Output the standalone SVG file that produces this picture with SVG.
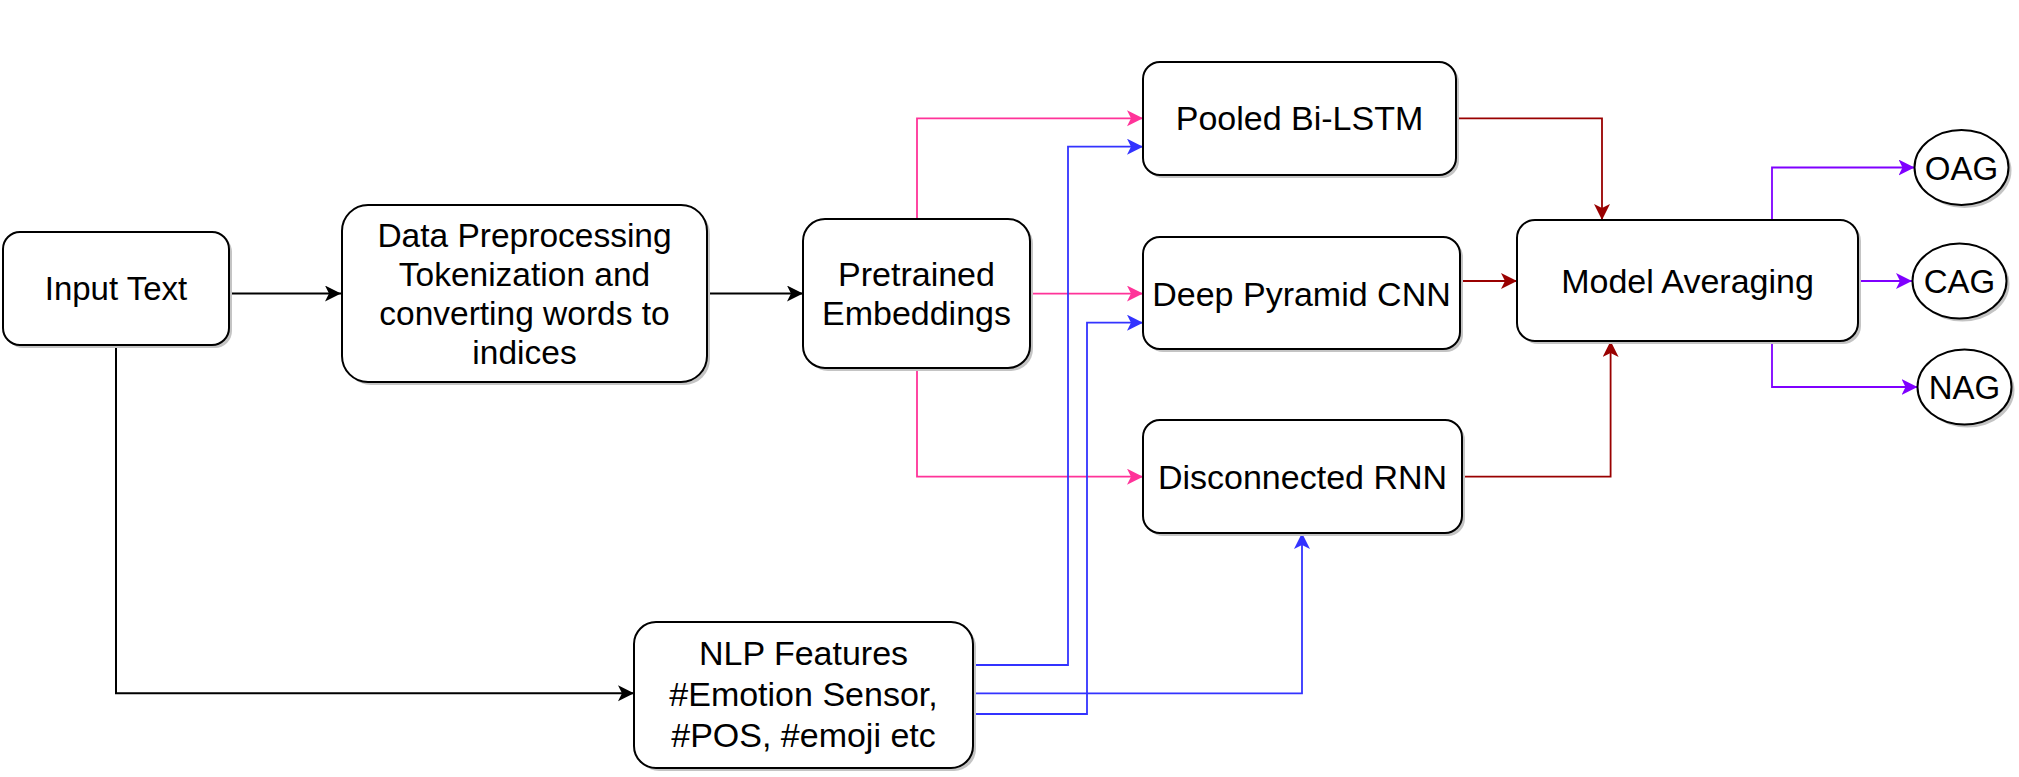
<svg xmlns="http://www.w3.org/2000/svg" width="2019" height="777" viewBox="0 0 2019 777">
<style>
.box{fill:#fff;stroke:#000;stroke-width:2}
.sh{fill:#c4c4c4;stroke:none}
text{font-family:"Liberation Sans",Arial,Helvetica,sans-serif;font-size:34px;fill:#000;text-anchor:middle}
.c{fill:none;stroke-width:1.8}
.k{stroke:#000;stroke-width:2}
.p{stroke:#FF3399}
.b{stroke:#3333FF}
.r{stroke:#990000}
.v{stroke:#7F00FF}
</style>
<defs>
<marker id="ak" markerUnits="userSpaceOnUse" markerWidth="17" markerHeight="17" refX="16" refY="8" orient="auto"><path d="M0,0 L16,8 L0,16 L4,8 Z" fill="#000"/></marker>
<marker id="ap" markerUnits="userSpaceOnUse" markerWidth="17" markerHeight="17" refX="16" refY="8" orient="auto"><path d="M0,0 L16,8 L0,16 L4,8 Z" fill="#FF3399"/></marker>
<marker id="ab" markerUnits="userSpaceOnUse" markerWidth="17" markerHeight="17" refX="16" refY="8" orient="auto"><path d="M0,0 L16,8 L0,16 L4,8 Z" fill="#3333FF"/></marker>
<marker id="ar" markerUnits="userSpaceOnUse" markerWidth="17" markerHeight="17" refX="16" refY="8" orient="auto"><path d="M0,0 L16,8 L0,16 L4,8 Z" fill="#990000"/></marker>
<marker id="av" markerUnits="userSpaceOnUse" markerWidth="17" markerHeight="17" refX="16" refY="8" orient="auto"><path d="M0,0 L16,8 L0,16 L4,8 Z" fill="#7F00FF"/></marker>
</defs>
<rect width="2019" height="777" fill="#fff"/>

<g id="connectors">
<path class="c k" d="M229,293.5 H341" marker-end="url(#ak)"/>
<path class="c k" d="M707,293.5 H803" marker-end="url(#ak)"/>
<path class="c k" d="M116,345 V693.3 H634" marker-end="url(#ak)"/>
<path class="c p" d="M917,219 V118.3 H1143" marker-end="url(#ap)"/>
<path class="c p" d="M1030,293.6 H1143" marker-end="url(#ap)"/>
<path class="c p" d="M917,368 V476.7 H1143" marker-end="url(#ap)"/>
<path class="c b" d="M973,665 H1068 V146.7 H1143" marker-end="url(#ab)"/>
<path class="c b" d="M973,714 H1087 V322.7 H1143" marker-end="url(#ab)"/>
<path class="c b" d="M973,693.3 H1302 V533" marker-end="url(#ab)"/>
<path class="c r" d="M1456,118.3 H1602 V220" marker-end="url(#ar)"/>
<path class="c r" d="M1460,281 H1517" marker-end="url(#ar)"/>
<path class="c r" d="M1462,476.7 H1610.6 V341" marker-end="url(#ar)"/>
<path class="c v" d="M1772,220 V167.5 H1914.5" marker-end="url(#av)"/>
<path class="c v" d="M1858,281 H1912" marker-end="url(#av)"/>
<path class="c v" d="M1772,341 V387 H1917.5" marker-end="url(#av)"/>
</g>

<g id="input-text">
<rect class="sh" x="6" y="235" width="226" height="113" rx="17"/>
<rect class="box" x="3" y="232" width="226" height="113" rx="17"/>
<text x="116" y="300" style="font-size:33px">Input Text</text>
</g>

<g id="data-preprocessing">
<rect class="sh" x="345" y="208" width="365" height="177" rx="26"/>
<rect class="box" x="342" y="205" width="365" height="177" rx="26"/>
<text x="524.5" y="246.5" style="font-size:33.5px">Data Preprocessing</text>
<text x="524.5" y="285.5" style="font-size:33.5px">Tokenization and</text>
<text x="524.5" y="324.5" style="font-size:33.5px">converting words to</text>
<text x="524.5" y="363.5" style="font-size:33.5px">indices</text>
</g>

<g id="pretrained-embeddings">
<rect class="sh" x="806" y="222" width="227" height="149" rx="22"/>
<rect class="box" x="803" y="219" width="227" height="149" rx="22"/>
<text x="916.5" y="285.5">Pretrained</text>
<text x="916.5" y="325">Embeddings</text>
</g>

<g id="pooled-bilstm">
<rect class="sh" x="1146" y="65" width="313" height="113" rx="17"/>
<rect class="box" x="1143" y="62" width="313" height="113" rx="17"/>
<text x="1299.5" y="130">Pooled Bi-LSTM</text>
</g>

<g id="deep-pyramid-cnn">
<rect class="sh" x="1146" y="240" width="317" height="112" rx="17"/>
<rect class="box" x="1143" y="237" width="317" height="112" rx="17"/>
<text x="1301.5" y="305.6">Deep Pyramid CNN</text>
</g>

<g id="disconnected-rnn">
<rect class="sh" x="1146" y="423" width="319" height="113" rx="17"/>
<rect class="box" x="1143" y="420" width="319" height="113" rx="17"/>
<text x="1302.5" y="488.5">Disconnected RNN</text>
</g>

<g id="model-averaging">
<rect class="sh" x="1520" y="223" width="341" height="121" rx="18"/>
<rect class="box" x="1517" y="220" width="341" height="121" rx="18"/>
<text x="1687.5" y="292.7">Model Averaging</text>
</g>

<g id="nlp-features">
<rect class="sh" x="637" y="625" width="339" height="146" rx="22"/>
<rect class="box" x="634" y="622" width="339" height="146" rx="22"/>
<text x="803.5" y="665">NLP Features</text>
<text x="803.5" y="706">#Emotion Sensor,</text>
<text x="803.5" y="746.5">#POS, #emoji etc</text>
</g>

<g id="oag">
<ellipse class="sh" cx="1964.5" cy="170.5" rx="47" ry="37.5"/>
<ellipse class="box" cx="1961.5" cy="167.5" rx="47" ry="37.5"/>
<text x="1961.5" y="179.5" style="font-size:33px">OAG</text>
</g>

<g id="cag">
<ellipse class="sh" cx="1962.5" cy="284" rx="47" ry="37.5"/>
<ellipse class="box" cx="1959.5" cy="281" rx="47" ry="37.5"/>
<text x="1959.5" y="293" style="font-size:33px">CAG</text>
</g>

<g id="nag">
<ellipse class="sh" cx="1967.5" cy="390" rx="47" ry="37.5"/>
<ellipse class="box" cx="1964.5" cy="387" rx="47" ry="37.5"/>
<text x="1964.5" y="399" style="font-size:33px">NAG</text>
</g>
</svg>
